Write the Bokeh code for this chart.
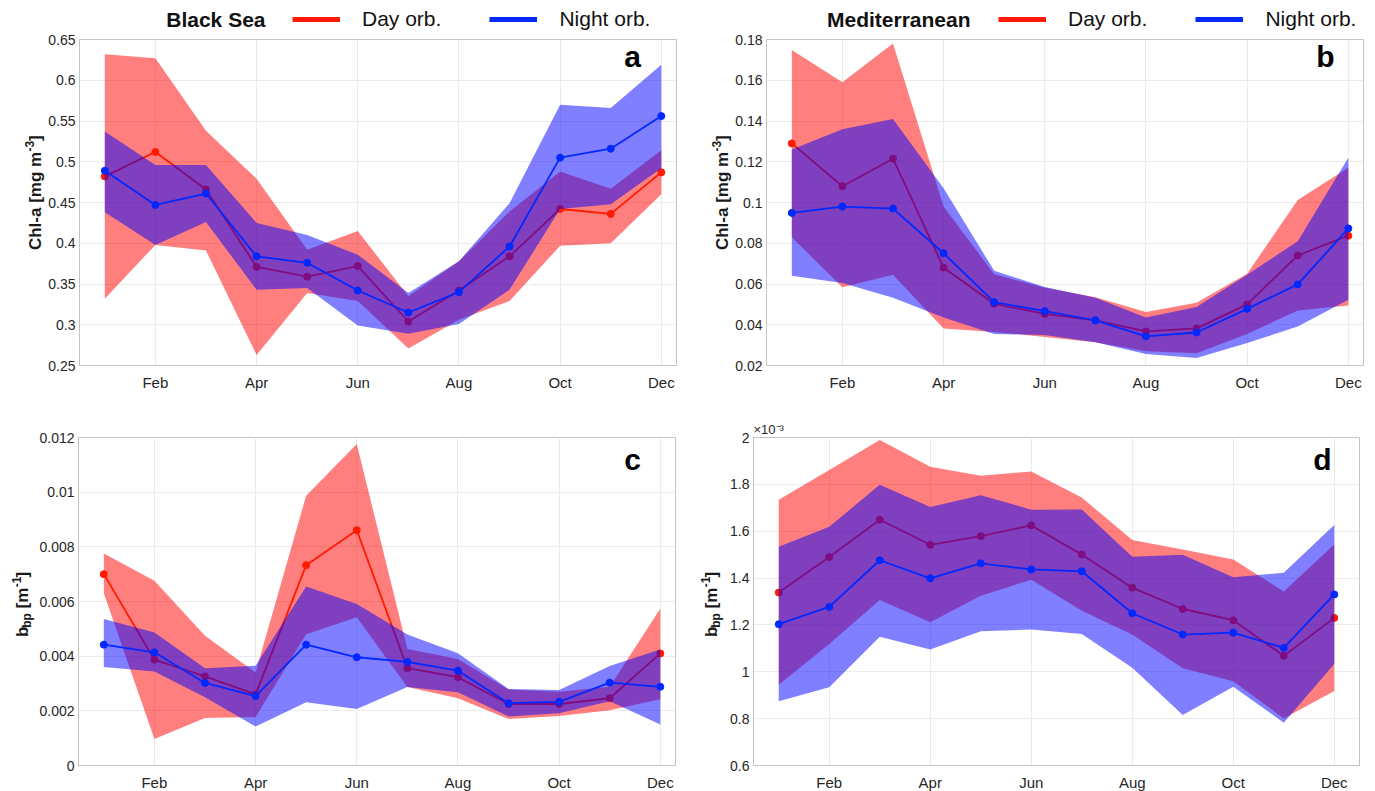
import math
from bokeh.plotting import figure
from bokeh.models import (Range1d, FixedTicker, CustomJSTickFormatter, Label,
                          Legend, LegendItem, Title)
from bokeh.layouts import column, row
from bokeh.embed import file_html
from bokeh.resources import INLINE

# ---------------- data ----------------
months = [1, 2, 3, 4, 5, 6, 7, 8, 9, 10, 11, 12]
month_ticks = [2, 4, 6, 8, 10, 12]
month_labels = ["Feb", "Apr", "Jun", "Aug", "Oct", "Dec"]

# (a) Black Sea Chl-a [mg m-3]
a_day_mean = [0.482, 0.512, 0.466, 0.371, 0.359, 0.372, 0.304, 0.342, 0.384, 0.442, 0.436, 0.487]
a_day_hi = [0.632, 0.627, 0.538, 0.479, 0.392, 0.415, 0.335, 0.378, 0.439, 0.488, 0.467, 0.514]
a_day_lo = [0.332, 0.398, 0.391, 0.263, 0.339, 0.329, 0.271, 0.306, 0.329, 0.397, 0.400, 0.460]
a_night_mean = [0.489, 0.447, 0.461, 0.384, 0.376, 0.342, 0.315, 0.340, 0.396, 0.505, 0.516, 0.556]
a_night_hi = [0.537, 0.496, 0.496, 0.425, 0.410, 0.386, 0.339, 0.378, 0.449, 0.570, 0.566, 0.619]
a_night_lo = [0.438, 0.398, 0.426, 0.343, 0.345, 0.299, 0.289, 0.301, 0.343, 0.442, 0.448, 0.492]
a_yticks = [0.25, 0.3, 0.35, 0.4, 0.45, 0.5, 0.55, 0.6, 0.65]

# (b) Mediterranean Chl-a [mg m-3]
b_day_mean = [0.129, 0.108, 0.1215, 0.068, 0.0503, 0.0453, 0.0422, 0.0367, 0.0382, 0.0500, 0.0740, 0.0837]
b_day_hi = [0.1748, 0.159, 0.178, 0.098, 0.0648, 0.0581, 0.0535, 0.0463, 0.0508, 0.065, 0.1012, 0.117]
b_day_lo = [0.083, 0.0584, 0.0646, 0.0382, 0.0365, 0.034, 0.0314, 0.027, 0.026, 0.0355, 0.047, 0.0494]
b_night_mean = [0.0949, 0.098, 0.097, 0.0751, 0.0511, 0.0467, 0.0422, 0.0343, 0.0362, 0.0478, 0.0598, 0.0873]
b_night_hi = [0.126, 0.136, 0.141, 0.107, 0.0665, 0.0585, 0.0532, 0.0435, 0.0487, 0.0645, 0.081, 0.122]
b_night_lo = [0.064, 0.0605, 0.0532, 0.0435, 0.0355, 0.035, 0.0314, 0.0257, 0.0237, 0.031, 0.0392, 0.0523]
b_yticks = [0.02, 0.04, 0.06, 0.08, 0.1, 0.12, 0.14, 0.16, 0.18]

# (c) Black Sea bbp [m-1]
c_day_mean = [0.0070, 0.00387, 0.00326, 0.0026, 0.00733, 0.00861, 0.00356, 0.00323, 0.00225, 0.00225, 0.00246, 0.0041]
c_day_hi = [0.00776, 0.00676, 0.00475, 0.0034, 0.00987, 0.01176, 0.00426, 0.0039, 0.00278, 0.0027, 0.00288, 0.00574]
c_day_lo = [0.0063, 0.00097, 0.00174, 0.00177, 0.0048, 0.00542, 0.00287, 0.00246, 0.0017, 0.00181, 0.00202, 0.00242]
c_night_mean = [0.00442, 0.00414, 0.00302, 0.00254, 0.00442, 0.00396, 0.00379, 0.00347, 0.00228, 0.00233, 0.00303, 0.00288]
c_night_hi = [0.00536, 0.00487, 0.00356, 0.00365, 0.00655, 0.00591, 0.00479, 0.00411, 0.0028, 0.00276, 0.00364, 0.00424]
c_night_lo = [0.0036, 0.00344, 0.0025, 0.00143, 0.00231, 0.00207, 0.00287, 0.00268, 0.00179, 0.00191, 0.00235, 0.0015]
c_yticks = [0, 0.002, 0.004, 0.006, 0.008, 0.01, 0.012]

# (d) Mediterranean bbp [m-1], in units of 1e-3
d_day_mean = [1.338, 1.490, 1.649, 1.542, 1.579, 1.625, 1.501, 1.359, 1.268, 1.220, 1.068, 1.230]
d_day_hi = [1.734, 1.861, 1.989, 1.875, 1.837, 1.855, 1.744, 1.562, 1.522, 1.479, 1.343, 1.543]
d_day_lo = [0.945, 1.119, 1.306, 1.211, 1.325, 1.393, 1.261, 1.159, 1.015, 0.960, 0.801, 0.918]
d_night_mean = [1.203, 1.277, 1.476, 1.399, 1.463, 1.437, 1.429, 1.250, 1.159, 1.167, 1.102, 1.330]
d_night_hi = [1.534, 1.619, 1.798, 1.703, 1.754, 1.692, 1.693, 1.491, 1.500, 1.404, 1.423, 1.627]
d_night_lo = [0.874, 0.934, 1.150, 1.095, 1.173, 1.180, 1.161, 1.017, 0.816, 0.936, 0.783, 1.033]
d_yticks = [0.6, 0.8, 1.0, 1.2, 1.4, 1.6, 1.8, 2.0]

# ---------------- style ----------------
FONT = "Liberation Sans"
RED = "#ff1a00"
BLUE = "#0028ff"
AXC = "#c4c4c4"
LBL = "#1a1a1a"

W_BOLD = {' ': 278, '-': 333, '[': 333, ']': 333, 'C': 722, 'a': 556, 'b': 611,
          'g': 611, 'h': 611, 'l': 278, 'm': 889, 'p': 611, '1': 556, '3': 556}


def tw(s, size):
    return 1.07 * sum(W_BOLD.get(c, 556) for c in s) * size / 1000.0


def blank_fig(w, h):
    f = figure(width=w, height=h, x_range=Range1d(0, w), y_range=Range1d(0, h),
               output_backend="svg", toolbar_location=None, min_border=0,
               x_axis_location=None, y_axis_location=None)
    f.xgrid.visible = False
    f.ygrid.visible = False
    f.outline_line_color = None
    f.background_fill_color = "white"
    f.border_fill_color = "white"
    return f


def vlabel(f, x, y, text, size, align):
    f.add_layout(Label(x=x, y=y, text=text, angle=math.pi / 2,
                       text_align=align, text_baseline="middle",
                       text_font=FONT, text_font_size=f"{size}px",
                       text_font_style="bold", text_color=LBL))


def chl_label_fig(w, h, xc, yc):
    f = blank_fig(w, h)
    main, sup, end = "Chl-a [mg m", "-3", "]"
    total = tw(main, 17) + tw(sup, 12) + tw(end, 17)
    p_end = yc - total / 2.0 + tw(main, 17)
    vlabel(f, xc, p_end, main, 17, "right")
    vlabel(f, xc - 6, p_end + 0.5, sup, 12, "left")
    vlabel(f, xc, p_end + tw(sup, 12) + 1, end, 17, "left")
    return f


def bbp_label_fig(w, h, xc, yc):
    f = blank_fig(w, h)
    total = (tw("b", 17) + tw("bp", 12) + tw(" ", 17) + tw("[m", 17)
             + tw("-1", 12) + tw("]", 17)) + 5
    start = yc - total / 2.0
    vlabel(f, xc, start, "b", 17, "left")
    vlabel(f, xc + 4, start + tw("b", 17), "bp", 12, "left")
    p2 = start + total - tw("]", 17) - tw("-1", 12)
    vlabel(f, xc, p2, "[m", 17, "right")
    vlabel(f, xc - 6, p2 + 0.5, "-1", 12, "left")
    vlabel(f, xc, p2 + tw("-1", 12) + 1, "]", 17, "left")
    return f


def make_panel(fw, fh, xr, yr, yticks, left, right, top, bottom,
               day_mean, day_hi, day_lo, night_mean, night_hi, night_lo):
    p = figure(frame_width=fw, frame_height=fh,
               x_range=Range1d(*xr), y_range=Range1d(*yr),
               output_backend="svg", toolbar_location=None,
               min_border_left=left, min_border_right=right,
               min_border_top=top, min_border_bottom=bottom)
    p.background_fill_color = "white"
    p.border_fill_color = "white"
    p.outline_line_color = AXC
    p.outline_line_width = 1
    p.xaxis.ticker = FixedTicker(ticks=month_ticks)
    p.xaxis.major_label_overrides = {t: l for t, l in zip(month_ticks, month_labels)}
    p.yaxis.ticker = FixedTicker(ticks=yticks)
    p.yaxis.formatter = CustomJSTickFormatter(code="return String(Number(tick.toFixed(6)));")
    p.axis.axis_line_color = AXC
    p.axis.major_tick_in = 0
    p.axis.major_tick_out = 0
    p.axis.minor_tick_in = 0
    p.axis.minor_tick_out = 0
    p.axis.major_label_text_font = FONT
    p.axis.major_label_text_color = "#262626"
    p.xaxis.major_label_text_font_size = "15px"
    p.yaxis.major_label_text_font_size = "14px"
    p.xaxis.major_label_standoff = 8
    p.yaxis.major_label_standoff = 4
    p.grid.grid_line_color = "#ebebeb"
    p.grid.grid_line_width = 1

    p.varea(x=months, y1=day_lo, y2=day_hi, fill_color="#ff0000", fill_alpha=0.5)
    p.line(x=months, y=day_mean, line_color=RED, line_width=1.8)
    p.scatter(x=months, y=day_mean, size=7, fill_color=RED, line_color=RED)
    p.varea(x=months, y1=night_lo, y2=night_hi, fill_color="#0000ff", fill_alpha=0.5)
    p.line(x=months, y=night_mean, line_color=BLUE, line_width=1.8)
    p.scatter(x=months, y=night_mean, size=7, fill_color=BLUE, line_color=BLUE)
    return p


def add_letter(p, letter, x, y):
    p.add_layout(Label(x=x, y=y, x_units="screen", y_units="screen", text=letter,
                       text_align="center", text_baseline="middle",
                       text_font=FONT, text_font_size="30px",
                       text_font_style="bold", text_color="#000000"))


# ---------------- legend strip ----------------
STRIP_H = 31
LEG_Y = 12
strip = blank_fig(1375, STRIP_H)
r_day = strip.line(x=[-50, -40], y=[-50, -50], line_color=RED, line_width=5)
r_night = strip.line(x=[-50, -40], y=[-50, -50], line_color=BLUE, line_width=5)
for title, tx, lx in (("Black Sea", 265, 292), ("Mediterranean", 970, 998)):
    strip.add_layout(Label(x=tx, y=LEG_Y, text=title, text_align="right",
                           text_baseline="middle", text_font=FONT,
                           text_font_size="21px", text_font_style="bold",
                           text_color="#111111"))
    leg = Legend(items=[LegendItem(label="Day orb.", renderers=[r_day]),
                        LegendItem(label="Night orb.", renderers=[r_night])],
                 location=(lx, 0), orientation="horizontal",
                 glyph_width=48, glyph_height=20, label_height=20,
                 label_standoff=22, spacing=48, padding=0, margin=0,
                 border_line_alpha=0, background_fill_alpha=0,
                 label_text_font=FONT, label_text_font_size="21px",
                 label_text_color="#111111")
    strip.add_layout(leg)

# ---------------- top row ----------------
FH1 = 326
H2 = 8 + FH1 + 35
pa = make_panel(597, FH1, (0.5, 12.3), (0.25, 0.65), a_yticks, 32, 18, 8, 35,
                a_day_mean, a_day_hi, a_day_lo, a_night_mean, a_night_hi, a_night_lo)
add_letter(pa, "a", 597 - 44, FH1 - 17)
yla = chl_label_fig(45, H2, 35, 35 + FH1 / 2.0)

pb = make_panel(597, FH1, (0.5, 12.3), (0.02, 0.18), b_yticks, 32, 16, 8, 35,
                b_day_mean, b_day_hi, b_day_lo, b_night_mean, b_night_hi, b_night_lo)
add_letter(pb, "b", 597 - 38, FH1 - 17)
ylb = chl_label_fig(38, H2, 28, 35 + FH1 / 2.0)

# ---------------- bottom row ----------------
FH2 = 328
H3 = 37 + FH2 + 26
pc = make_panel(597, FH2, (0.5, 12.3), (0.0, 0.012), c_yticks, 41, 18, 37, 26,
                c_day_mean, c_day_hi, c_day_lo, c_night_mean, c_night_hi, c_night_lo)
add_letter(pc, "c", 597 - 43, FH2 - 22)
ylc = bbp_label_fig(36, H3, 22, 26 + FH2 / 2.0)

pd = make_panel(606, FH2, (0.5, 12.5), (0.6, 2.0), d_yticks, 29, 17, 37, 26,
                d_day_mean, d_day_hi, d_day_lo, d_night_mean, d_night_hi, d_night_lo)
add_letter(pd, "d", 606 - 37, FH2 - 22)
pd.add_layout(Title(text="×10⁻³", align="left", text_font=FONT,
                    text_font_size="13px", text_font_style="normal",
                    text_color="#262626", standoff=2), "above")
yld = bbp_label_fig(31, H3, 18, 26 + FH2 / 2.0)

layout = column(strip, row(yla, pa, ylb, pb), row(ylc, pc, yld, pd))
open("out.html", "w").write(file_html(layout, INLINE))
